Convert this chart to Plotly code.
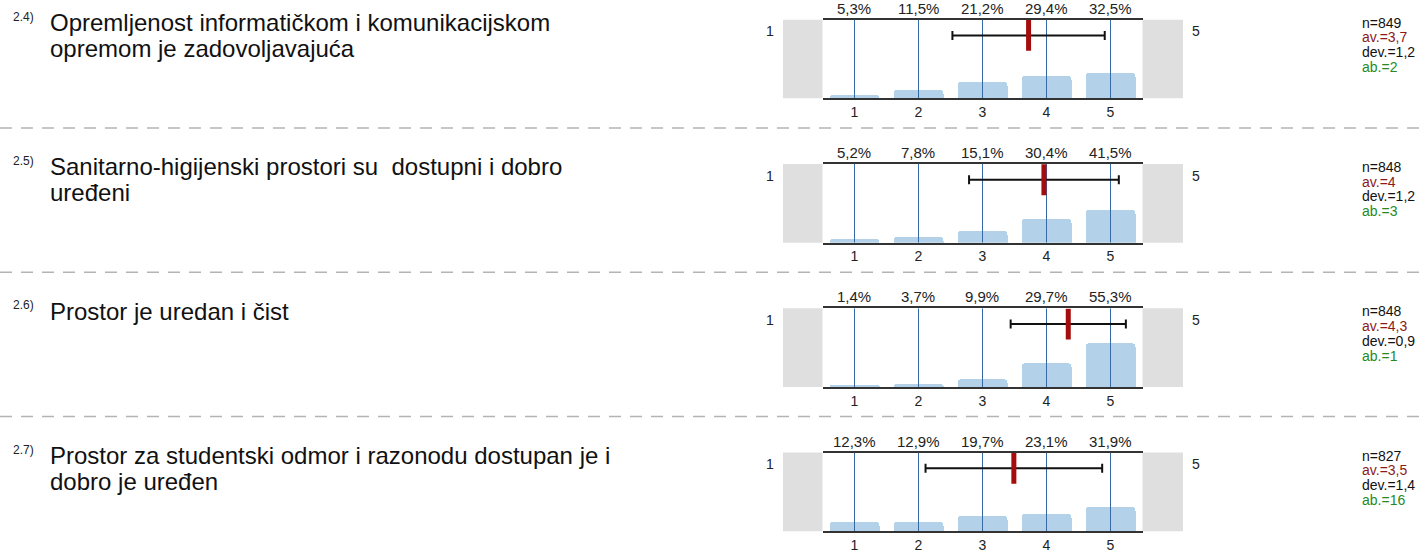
import plotly.graph_objects as go

W, H = 1422, 553

# ---------------- data ----------------
question_ids = ["2.4)", "2.5)", "2.6)", "2.7)"]
question_lines = [
    ["Opremljenost informatičkom i komunikacijskom", "opremom je zadovoljavajuća"],
    ["Sanitarno-higijenski prostori su\u00a0 dostupni i dobro", "uređeni"],
    ["Prostor je uredan i čist"],
    ["Prostor za studentski odmor i razonodu dostupan je i", "dobro je uređen"],
]
scale = [1, 2, 3, 4, 5]
pct_q24 = [5.3, 11.5, 21.2, 29.4, 32.5]
pct_q25 = [5.2, 7.8, 15.1, 30.4, 41.5]
pct_q26 = [1.4, 3.7, 9.9, 29.7, 55.3]
pct_q27 = [12.3, 12.9, 19.7, 23.1, 31.9]
pct = [pct_q24, pct_q25, pct_q26, pct_q27]
n_resp = [849, 848, 848, 827]
means = [3.72, 3.96, 4.34, 3.49]
devs = [1.19, 1.17, 0.90, 1.38]
abstain = [2, 3, 1, 16]

# ---------------- style / layout ----------------
FONT = "Arial, Liberation Sans, sans-serif"
BAR_C = "#b3d2ea"
GRID_C = "#3569a6"
MEAN_C = "#a50d0d"
AV_C = "#8b1a1a"
AB_C = "#238b23"
GRAY = "#dfdfdf"

X0, X1 = 822.5, 1142.5
PW = X1 - X0
PH = 80
STEP = 146.7
tops = [20 + STEP * i for i in range(4)]


def py(v):
    return 1 - v / H


def fmt(v):
    s = f"{v:.1f}"
    if s.endswith(".0"):
        s = s[:-2]
    return s.replace(".", ",")


fig = go.Figure()
annotations = []
shapes = []

for i in range(4):
    k = i + 1
    xa = "x" if k == 1 else f"x{k}"
    ya = "y" if k == 1 else f"y{k}"
    top = tops[i]

    fig.add_trace(go.Bar(
        x=scale, y=pct[i], xaxis=xa, yaxis=ya, width=0.78,
        marker=dict(color=BAR_C, cornerradius=4, line=dict(width=0)),
        hoverinfo="skip", showlegend=False,
    ))
    vx, vy = [], []
    for c in scale:
        vx += [c, c, None]
        vy += [0, 100, None]
    fig.add_trace(go.Scatter(
        x=vx, y=vy, xaxis=xa, yaxis=ya, mode="lines",
        line=dict(color=GRID_C, width=1), hoverinfo="skip", showlegend=False,
    ))
    fig.add_trace(go.Scatter(
        x=[means[i]], y=[80], xaxis=xa, yaxis=ya, mode="markers",
        marker=dict(symbol="line-ns", size=22, color=MEAN_C,
                    line=dict(color=MEAN_C, width=5)),
        error_x=dict(type="data", array=[devs[i]], symmetric=True,
                     color="#111111", thickness=2, width=4.5),
        hoverinfo="skip", showlegend=False,
    ))

    xkey = "xaxis" if k == 1 else f"xaxis{k}"
    ykey = "yaxis" if k == 1 else f"yaxis{k}"
    fig.update_layout(**{
        xkey: dict(domain=[X0 / W, X1 / W], range=[0.5, 5.5], anchor=ya,
                   tickvals=scale, ticktext=[str(c) for c in scale],
                   showgrid=False, zeroline=False, showline=True, mirror=True,
                   linecolor="#333333", linewidth=2, ticks="",
                   tickfont=dict(size=14, color="#222222", family=FONT),
                   fixedrange=True),
        ykey: dict(domain=[py(top + PH), py(top)], range=[0, 100], anchor=xa,
                   visible=False, fixedrange=True),
    })

    # percentages above the bars
    for c, p in zip(scale, pct[i]):
        annotations.append(dict(
            x=c, y=1, xref=xa, yref=f"{ya} domain", yanchor="bottom",
            xanchor="center", yshift=1, showarrow=False, text=fmt(p) + "%",
            font=dict(size=15, color="#222222", family=FONT)))

    # side gray boxes and end labels
    shapes.append(dict(type="rect", xref=f"{xa} domain", yref=f"{ya} domain",
                       x0=(783 - X0) / PW, x1=0, y0=0, y1=1,
                       fillcolor=GRAY, line=dict(width=0), layer="below"))
    shapes.append(dict(type="rect", xref=f"{xa} domain", yref=f"{ya} domain",
                       x0=1, x1=(1183 - X0) / PW, y0=0, y1=1,
                       fillcolor=GRAY, line=dict(width=0), layer="below"))
    annotations.append(dict(x=(770 - X0) / PW, y=1 - 12 / PH, xref=f"{xa} domain",
                            yref=f"{ya} domain", xanchor="center", yanchor="middle",
                            showarrow=False, text=str(scale[0]),
                            font=dict(size=14, color="#222222", family=FONT)))
    annotations.append(dict(x=(1196 - X0) / PW, y=1 - 12 / PH, xref=f"{xa} domain",
                            yref=f"{ya} domain", xanchor="center", yanchor="middle",
                            showarrow=False, text=str(scale[-1]),
                            font=dict(size=14, color="#222222", family=FONT)))

    # question label
    annotations.append(dict(x=11 / W, y=py(top - 3), xref="paper", yref="paper",
                            xanchor="left", yanchor="middle", showarrow=False,
                            text=question_ids[i],
                            font=dict(size=12, color="#222222", family=FONT)))
    for j, line in enumerate(question_lines[i]):
        annotations.append(dict(x=49 / W, y=py(top + 3 + 26 * j), xref="paper",
                                yref="paper", xanchor="left", yanchor="middle",
                                showarrow=False, text=line, borderpad=0,
                                font=dict(size=24, color="#111111", family=FONT)))

    # statistics
    stats = [(f"n={n_resp[i]}", "#111111"),
             (f"av.={fmt(means[i])}", AV_C),
             (f"dev.={fmt(devs[i])}", "#111111"),
             (f"ab.={abstain[i]}", AB_C)]
    for j, (txt, col) in enumerate(stats):
        annotations.append(dict(x=1360 / W, y=py(top + 3 + 15 * j), xref="paper",
                                yref="paper", xanchor="left", yanchor="middle",
                                showarrow=False, text=txt,
                                font=dict(size=14, color=col, family=FONT)))

    # dashed separator
    if i < 3:
        shapes.append(dict(type="line", xref="paper", yref="paper", x0=0, x1=1,
                           y0=py(top + 110), y1=py(top + 110),
                           line=dict(color="#b4b4b4", width=1.5, dash="12px,9px")))

fig.update_layout(
    width=W, height=H, autosize=False,
    margin=dict(l=0, r=0, t=0, b=0),
    paper_bgcolor="white", plot_bgcolor="white",
    font=dict(family=FONT),
    annotations=annotations, shapes=shapes,
    bargap=0, showlegend=False,
)

fig.write_html("out.html", config={"displayModeBar": False},
               post_script="document.body.style.margin='0';document.body.style.overflow='hidden';")
